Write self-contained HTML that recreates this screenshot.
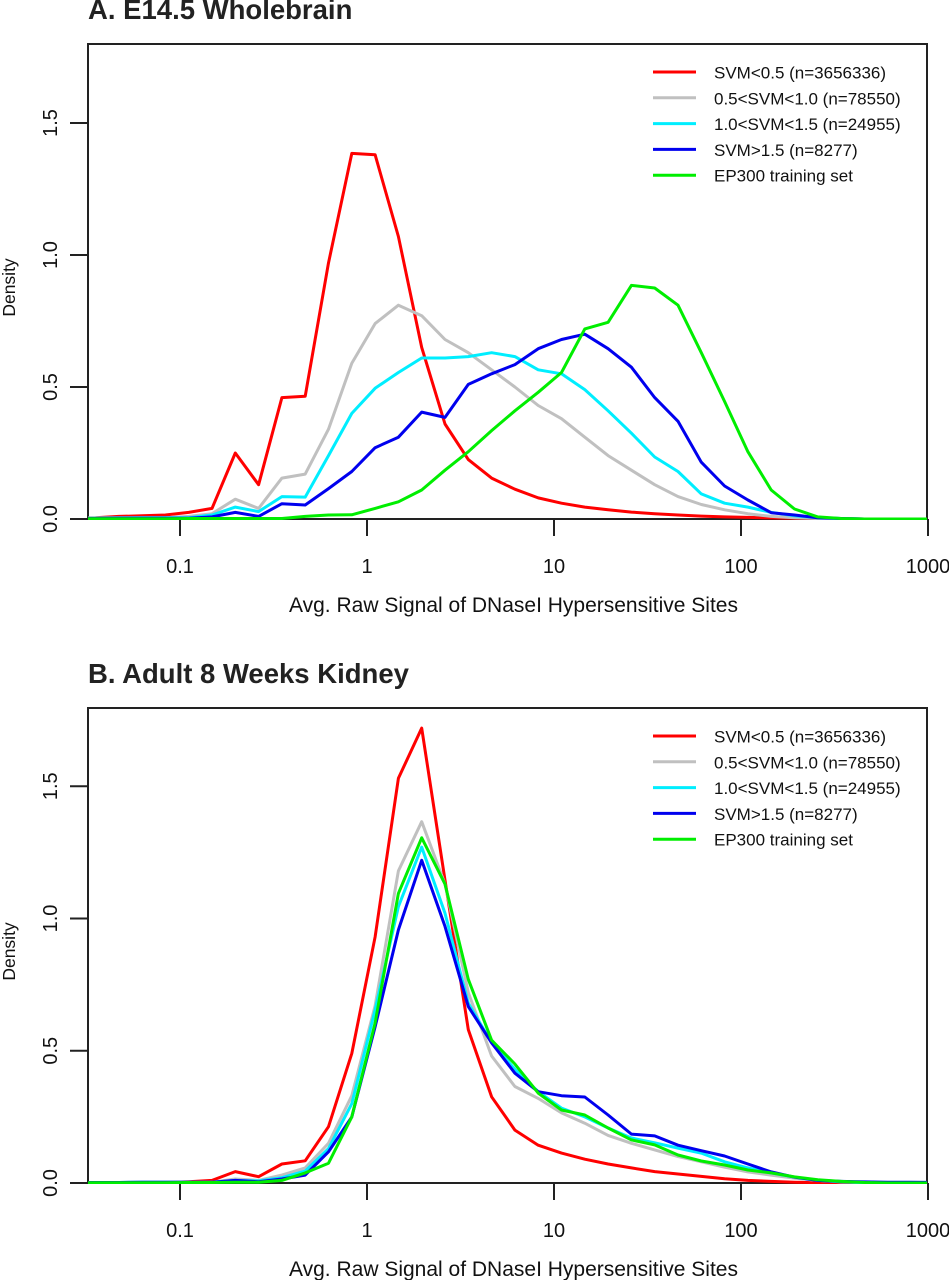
<!DOCTYPE html>
<html><head><meta charset="utf-8"><style>
html,body{margin:0;padding:0;background:#fff;}
svg{display:block;font-family:"Liberation Sans",Arial,sans-serif;}
</style></head><body>
<svg id="fig" width="949" height="1280" viewBox="0 0 949 1280">
<defs>
<clipPath id="clipA"><rect x="88" y="44" width="839" height="476"/></clipPath>
<clipPath id="clipB"><rect x="88" y="708" width="839" height="476"/></clipPath>
</defs>
</svg>
<script>
const seriesNames = ["SVM<0.5 (n=3656336)","0.5<SVM<1.0 (n=78550)","1.0<SVM<1.5 (n=24955)","SVM>1.5 (n=8277)","EP300 training set"];
const seriesColors = ["#ff0000","#c0c0c0","#00eeff","#0000ee","#00ee00"];
const xTicks = [0.1,1,10,100,1000];
const xTickLabels = ["0.1","1","10","100","1000"];
const yTicks = [0,0.5,1.0,1.5];
const yTickLabels = ["0.0","0.5","1.0","1.5"];
// log10 grid of density estimates (bin index j from -6 to 31)
const gridStart = -0.829 - 6*0.1246;
const gridStep = 0.1246;
const redA = [0.003,0.005,0.01,0.012,0.015,0.025,0.04,0.25,0.13,0.46,0.465,0.97,1.385,1.38,1.07,0.65,0.36,0.225,0.155,0.113,0.08,0.06,0.045,0.035,0.026,0.02,0.015,0.011,0.008,0.006,0.004,0.003,0.002,0.001,0,0,0,0];
const grayA = [0.003,0.004,0.005,0.005,0.005,0.01,0.02,0.075,0.04,0.155,0.17,0.34,0.59,0.74,0.81,0.77,0.68,0.63,0.565,0.5,0.43,0.38,0.31,0.24,0.185,0.13,0.085,0.055,0.035,0.02,0.01,0.005,0.002,0,0,0,0,0];
const cyanA = [0.002,0.003,0.004,0.005,0.005,0.005,0.015,0.045,0.028,0.085,0.083,0.24,0.40,0.495,0.555,0.61,0.61,0.615,0.63,0.615,0.565,0.55,0.49,0.41,0.325,0.235,0.18,0.095,0.06,0.045,0.025,0.012,0.005,0.002,0,0,0,0];
const blueA = [0.002,0.002,0.003,0.003,0.003,0.003,0.008,0.025,0.01,0.058,0.053,0.115,0.18,0.27,0.31,0.405,0.385,0.51,0.55,0.585,0.645,0.68,0.70,0.645,0.575,0.46,0.37,0.215,0.125,0.072,0.024,0.015,0.005,0.002,0,0,0,0];
const greenA = [0.001,0.001,0.001,0.001,0.001,0.002,0.002,0.002,0.002,0.002,0.01,0.015,0.016,0.04,0.065,0.11,0.185,0.255,0.335,0.41,0.48,0.555,0.72,0.745,0.885,0.875,0.81,0.63,0.445,0.255,0.11,0.038,0.008,0.002,0,0,0,0];
const redB = [0.002,0.002,0.002,0.002,0.002,0.005,0.01,0.043,0.024,0.072,0.084,0.213,0.49,0.93,1.53,1.72,1.145,0.58,0.326,0.2,0.143,0.113,0.09,0.072,0.057,0.043,0.034,0.025,0.016,0.01,0.006,0.003,0.001,0,0,0,0,0];
const grayB = [0.002,0.002,0.002,0.003,0.003,0.003,0.003,0.015,0.01,0.03,0.057,0.15,0.33,0.67,1.18,1.366,1.13,0.72,0.48,0.365,0.32,0.265,0.226,0.18,0.15,0.125,0.1,0.08,0.06,0.042,0.03,0.018,0.01,0.005,0.002,0,0,0];
const cyanB = [0.002,0.002,0.002,0.003,0.003,0.003,0.003,0.01,0.008,0.02,0.045,0.13,0.30,0.655,1.045,1.27,1.02,0.68,0.53,0.43,0.345,0.283,0.25,0.208,0.17,0.152,0.132,0.113,0.08,0.057,0.038,0.022,0.01,0.004,0.001,0,0,0];
const blueB = [0.002,0.002,0.002,0.003,0.003,0.003,0.003,0.01,0.005,0.015,0.03,0.118,0.25,0.59,0.957,1.22,0.97,0.667,0.53,0.415,0.345,0.33,0.325,0.257,0.185,0.178,0.143,0.122,0.102,0.072,0.042,0.022,0.01,0.006,0.004,0.003,0.003,0.002];
const greenB = [0.001,0.001,0.001,0.001,0.001,0.002,0.002,0.003,0.003,0.01,0.038,0.075,0.25,0.605,1.095,1.305,1.13,0.77,0.54,0.45,0.34,0.276,0.257,0.208,0.163,0.144,0.106,0.083,0.068,0.049,0.038,0.023,0.012,0.006,0.002,0,0,0];

const NS = "http://www.w3.org/2000/svg";
const svg = document.getElementById("fig");
const X0 = 367, DEC = 187, XL = 88, XR = 927;
function xScale(v){ return X0 + DEC*Math.log10(v); }
function xScaleLog(l){ return X0 + DEC*l; }
function mk(tag, attrs, parent){ const e = document.createElementNS(NS, tag); for (const k in attrs) e.setAttribute(k, attrs[k]); (parent||svg).appendChild(e); return e; }

function panel(key, title, top, bottom, pxPerUnit, data, clipId){
  const g = mk("g", {});
  
  
  const yScale = v => bottom - v*pxPerUnit;
  const t = mk("text", {x:88, y: top-25, "font-size":27.5, "font-weight":"bold", fill:"#222"}, g);
  t.textContent = title;
  
  
  const box = mk("rect", {x:XL, y:top, width:XR-XL, height:bottom-top, fill:"none", stroke:"#222", "stroke-width":2}, g);
  
  
  xTicks.forEach((v,i)=>{
    const x = xScale(v);
    const tk = mk("line", {x1:x, x2:x, y1:bottom, y2:bottom+17, stroke:"#222", "stroke-width":2}, g);
    
    
    const lb = mk("text", {x:x, y:bottom+54, "font-size":20, "text-anchor":"middle", fill:"#111"}, g);
    lb.textContent = xTickLabels[i];
    
    
  });
  const xt = mk("text", {x:(XL+XR)/2 + 6, y:bottom+93, "font-size":21, "text-anchor":"middle", fill:"#111"}, g);
  xt.textContent = "Avg. Raw Signal of DNaseI Hypersensitive Sites";
  
  
  yTicks.forEach((v,i)=>{
    const y = yScale(v);
    const tk = mk("line", {x1:XL-18, x2:XL, y1:y, y2:y, stroke:"#222", "stroke-width":2}, g);
    
    
    const lb = mk("text", {x:0, y:0, "font-size":20, "text-anchor":"middle", fill:"#111", transform:"translate(57," + y + ") rotate(-90)"}, g);
    lb.textContent = yTickLabels[i];
    
    
  });
  const yt = mk("text", {x:0, y:0, "font-size":17.5, "text-anchor":"middle", fill:"#111", transform:"translate(15," + ((top+bottom)/2 + 6) + ") rotate(-90)"}, g);
  yt.textContent = "Density";
  
  
  const lg = mk("g", {"clip-path":"url(#" + clipId + ")"}, g);
  data.forEach((arr, s)=>{
    const pts = arr.map((v,j)=> xScaleLog(gridStart + j*gridStep).toFixed(1) + "," + yScale(v).toFixed(1)).join(" ");
    const pl = mk("polyline", {points:pts, fill:"none", stroke:seriesColors[s], "stroke-width":3, "stroke-linejoin":"round"}, lg);
    
    
  });
  const leg = mk("g", {}, g);
  
  
  seriesNames.forEach((n,s)=>{
    const y = top + 28 + s*25.8;
    const ln = mk("line", {x1:653, x2:696, y1:y, y2:y, stroke:seriesColors[s], "stroke-width":3}, leg);
    
    
    const tx = mk("text", {x:714, y:y+6.5, "font-size":17, fill:"#111"}, leg);
    tx.textContent = n;
    
    
  });
}
panel("a", "A. E14.5 Wholebrain", 44, 519, 264, [redA,grayA,cyanA,blueA,greenA], "clipA");
panel("b", "B. Adult 8 Weeks Kidney", 708, 1183, 264.5, [redB,grayB,cyanB,blueB,greenB], "clipB");
</script>
</body></html>
